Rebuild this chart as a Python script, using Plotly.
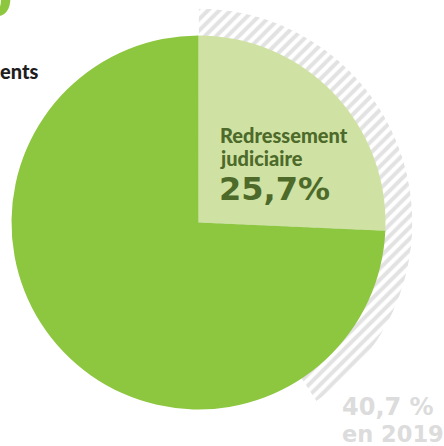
import plotly.graph_objects as go

# Procedure breakdown (share of cases, %)
labels = ["Redressement judiciaire", "Autres procédures"]
shares = [25.7, 74.3]
colors = ["#cfe2a3", "#8dc63f"]

# Same category one year earlier
previous_label = "Redressement judiciaire 2019"
previous_share = 40.7
previous_year = "2019"

W, H = 444, 446


def px(x):
    return x / W


def py(y):
    return 1 - y / H


fig = go.Figure()

# Hatched wedge behind the pie: last year's share, drawn on a half-disc polar subplot
fig.add_trace(go.Barpolar(
    r=[1],
    theta=[previous_share * 3.6 / 2],
    width=[previous_share * 3.6],
    base=[0],
    name=previous_label,
    marker=dict(
        color="#c6c6c6",
        line=dict(width=0),
        pattern=dict(shape="/", fgcolor="#c6c6c6", bgcolor="white",
                     size=8, solidity=0.5),
    ),
    hoverinfo="skip",
    subplot="polar",
))

cx, cy, r_ring, r_pie = 198.5, 222.5, 214, 187

fig.update_layout(
    polar=dict(
        domain=dict(x=[px(cx), px(cx + r_ring)], y=[py(cy + r_ring), py(cy - r_ring)]),
        sector=[-90, 90],
        bgcolor="rgba(0,0,0,0)",
        angularaxis=dict(visible=False, rotation=90, direction="clockwise"),
        radialaxis=dict(visible=False, range=[0, 1]),
    )
)

# Current split
fig.add_trace(go.Pie(
    labels=labels,
    values=shares,
    sort=False,
    direction="clockwise",
    rotation=0,
    marker=dict(colors=colors, line=dict(width=0)),
    textinfo="none",
    textposition="none",
    hoverinfo="label+percent",
    domain=dict(x=[px(cx - r_pie), px(cx + r_pie)], y=[py(cy + r_pie), py(cy - r_pie)]),
))

dark_green = "#4d6a2a"
annotations = [
    dict(text="Redressement", x=px(219), y=py(135), xanchor="left", yanchor="middle",
         font=dict(family="Lato", size=20, color=dark_green, weight=900)),
    dict(text="judiciaire", x=px(219), y=py(158), xanchor="left", yanchor="middle",
         font=dict(family="Lato", size=20, color=dark_green, weight=900)),
    dict(text=f"{shares[0]:.1f}%".replace(".", ","), x=px(218), y=py(189), xanchor="left", yanchor="middle",
         font=dict(family="DejaVu Sans", size=32, color=dark_green, weight="bold")),
    dict(text=f"{previous_share:.1f} %".replace(".", ","), x=px(341), y=py(407), xanchor="left", yanchor="middle",
         font=dict(family="DejaVu Sans", size=24, color="#dcdcdc", weight="bold")),
    dict(text=f"en {previous_year}", x=px(341), y=py(434), xanchor="left", yanchor="middle",
         font=dict(family="DejaVu Sans", size=22.5, color="#dcdcdc", weight="bold")),
    # fragments of the surrounding heading block
    dict(text="0", x=px(14), y=py(29), xanchor="right", yanchor="bottom",
         font=dict(family="DejaVu Sans", size=50, color="#8dc63f", weight="bold")),
    dict(text="ents", x=px(-1), y=py(71), xanchor="left", yanchor="middle",
         font=dict(family="Lato", size=20, color="#1e1e1e", weight=900)),
]
for a in annotations:
    a.update(xref="paper", yref="paper", showarrow=False, borderpad=0)

fig.update_layout(
    width=W, height=H,
    margin=dict(l=0, r=0, t=0, b=0),
    paper_bgcolor="white",
    plot_bgcolor="white",
    showlegend=False,
    annotations=annotations,
)

fig.write_html("out.html")
